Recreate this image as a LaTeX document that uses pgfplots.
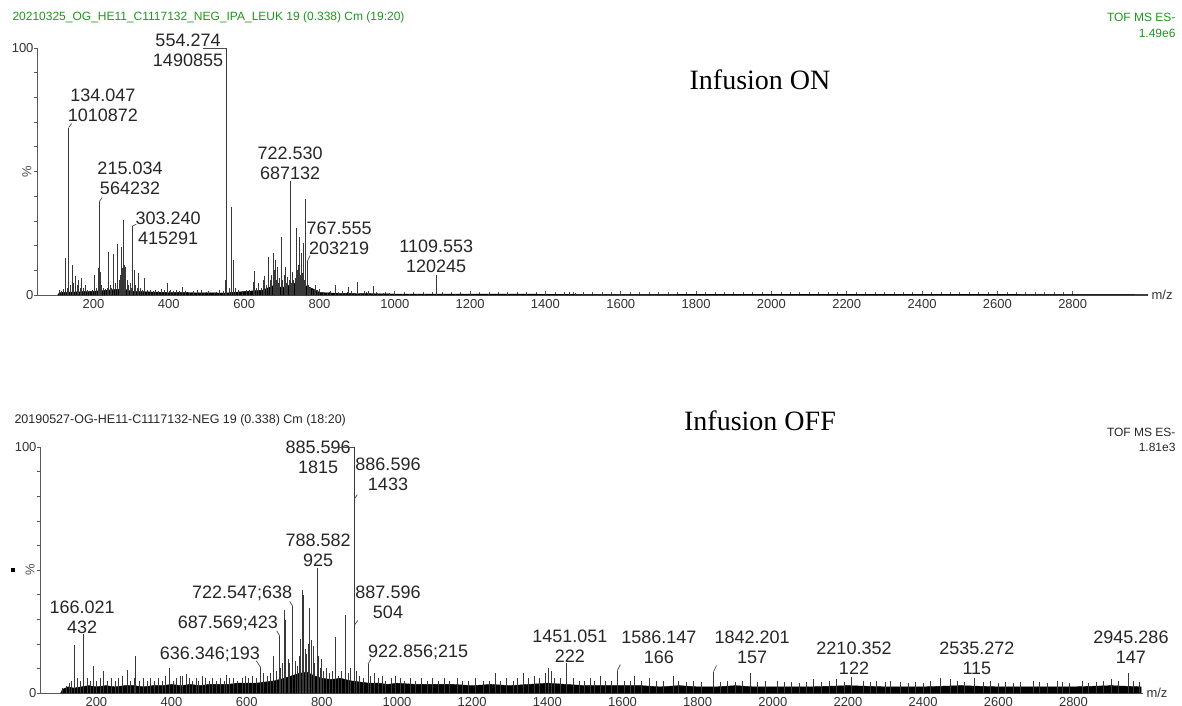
\documentclass[border=0pt]{standalone}
\usepackage{fontspec}
\setmainfont{Liberation Sans}
\newfontfamily\timesfont{Liberation Serif}
\usepackage{pgfplots}
\usepackage{pgfplotstable}
\pgfplotsset{compat=1.18}
\definecolor{msgreen}{RGB}{30,150,30}

% ---- Infusion ON (m/z, % of 1490855)
\pgfplotstableread{
mz pct
110 2
115 1.5
120 2.5
126 14.9
130 3
134.047 67.8
138 4
143 12.2
148 5
153 7.7
157 4
160 6
165 3
169 6.8
174 3
179 4
184 2
190 1.5
197 2
203 8
208 3
212 11
215.034 37.8
218 9.5
222 4
227 3
232 2.5
236 3
240 17.3
245 4
249 3
253 16.6
258 5
264 20.5
268 6
271 8
274 19.6
277 11
279 30.5
282 12
285 11.5
289 6
293 4
297 5
300 3
303.240 27.9
308 10
312 4
316 3
320 9
325 3
330 2
336 6.8
342 2
350 2
358 1.5
365 2
372 1.5
380 2.5
388 2
396 4.7
405 2
412 1.5
420 2
428 1.5
437 3.4
445 1.5
455 1
465 1.5
475 2
487 2
495 1
505 1.5
520 1
535 2
545 1.5
551 6
554.274 100
560 3
567 35.8
572 14
578 3
585 2
595 1.5
605 2
615 2
626 5.4
628 9.9
633 3
639 4.7
645 3
651 6
655 7.7
660 4
665 15.5
669 6
673 8
679 17.2
681 10
683 14
686 6
688 11.5
692 5
695 7
699 23.4
703 6
706 8
710 11.5
713 5
716 7.4
720 6
722.530 46.1
726 5
728 9.5
732 6
735 7
739 27
741 10
744 12
748 23.6
750 8
753 17
756 9
758 21
760 6
763 39
767.555 13.6
770 4
774 3
777 3.4
782 2
786 2.5
790 4
795 2
800 2.5
810 1
820 1
830 1.5
843 4
850 1
860 1.5
870 1
878 3.4
885 1.5
893 1
900 5.4
910 1
920 1.5
930 1.5
944 3.6
955 1
970 0.8
985 0.8
1000 1
1020 0.6
1040 0.6
1060 0.6
1080 0.5
1109.553 8.1
1130 0.5
1160 0.5
1200 0.5
1250 0.4
1300 0.4
1350 0.4
1400 0.5
1450 0.8
1465 1.2
1480 0.8
1500 0.8
1550 0.4
1600 0.4
}\topsticks

\pgfplotstableread{
mz pct
105 0
110 1
200 1.5
280 2.5
300 1.5
400 1
550 0.8
650 2
680 4
700 3
740 5
760 4
790 2
800 1
850 0.7
1000 0.4
1500 0.3
3000 0.2
}\topfloor

% ---- Infusion OFF (m/z, % of 1815)
\pgfplotstableread{
mz pct
110 2
120 3
128 4
135 5
141 19.6
150 6
158 5
166.021 23.8
175 6
183 5
192 11
200 5
210 6
218 8.8
230 5
240 6
250 5
260 6
270 7
282 9.2
290 5
300 6
304 15.1
315 5
325 6
335 5
345 6
355 5
365 6
375 5
385 7
395 10
405 5
412 6
423 6.8
430 7
439 7.8
447 6
455 5
465 6
472 5
481 7
490 6
500 5
510 6
520 5
530 6
540 5
547 7.4
555 6
565 6
575 5
590 6
598 7
605 6
615 7
625 6
636.346 10.6
645 8
655 7
662 8
670 15
678 9
687.569 23.3
690 10
695 12
701 33.8
704 29.7
710 14
715 12
722.547 35.2
730 13
735 11
740 15
743 21.9
749 42
752 40
756 18
760 16
764 20
767 34.5
771 21.6
777 19
780 12
788.582 51
791 15
795 10
798 14
805 9
812 10
820 8
828 9
836 22.7
845 7
852 9
862 31.8
864 20
870 8
875 10
885.596 100
886.596 79
887.596 27.8
893 9
900 7
910 6
922.856 11.8
930 7
940 8
950 6
960 7
970 5
985 6
995 7
1010 6
1020 5
1035 6
1050 5
1065 6
1080 5
1095 6
1110 5
1125 6
1140 5
1160 6
1175 5
1190 5
1210 6
1230 5
1245 5
1261 8
1275 5
1290 6
1310 5
1320 6
1336 8
1350 6
1365 7
1380 6
1395 8
1402 10
1410 9
1420 6
1435 6
1451.051 12.2
1470 6
1485 5
1500 5
1515 6
1525 5
1540 7
1555 5
1570 5
1586.147 9.1
1605 5
1620 5
1633 7
1650 5
1673 6
1690 5
1710 5
1735 7
1750 5
1770 4.5
1790 5
1810 4.5
1842.201 8.7
1860 4.5
1880 5
1900 4.5
1920 5
1940 8
1960 4.5
1980 5
2011 5
2030 4.5
2050 4.5
2070 4
2090 4.5
2107 5.5
2130 4.5
2150 5
2170 5.5
2190 4.5
2210.352 6.7
2240 5
2260 4.5
2277 5
2300 4.5
2312 5
2340 4.5
2360 4
2380 4.5
2400 4
2420 5
2445 6
2472 5.5
2490 5
2510 4.5
2535.272 6.3
2560 4.5
2580 5
2600 4
2620 4.5
2640 4
2660 4.5
2693 5
2710 4.5
2730 4
2756 5
2770 4.5
2790 4
2823 5
2840 4
2860 4.5
2880 5
2900 5.5
2920 5
2945.286 8.1
2960 5
2975 4.5
}\botsticks

% solid noise band of the OFF spectrum, read as an envelope
\pgfplotstableread{
mz pct
105 0
110 1.5
125 2.5
140 2
160 2.5
180 3
200 2.5
225 3
250 2.5
275 3
300 3
325 2.5
350 3
375 3
400 3.5
425 3
450 3.5
475 3
500 3.5
525 3.5
550 3.5
575 4
600 4
625 4
650 4.5
675 5
700 6
720 7
740 8
760 8.5
780 7
800 6
825 5.5
850 6
875 5
900 4.5
925 4
950 4
975 3.5
1000 4
1050 3.5
1100 3.5
1150 3.5
1200 3
1250 3.5
1300 3
1350 3.5
1400 4
1450 3.5
1500 3
1550 3
1600 3
1650 3
1700 2.5
1750 3
1800 2.5
1850 2.5
1900 3
1950 2.5
2000 2.5
2100 2.5
2200 3
2300 2.5
2400 2.5
2500 3
2600 2.5
2700 2.5
2800 2.5
2900 3
2980 2.5
}\botfloor

\pgfplotsset{
  msaxis/.style={
    scale only axis, anchor=south west, clip=false,
    ymin=0, ymax=100,
    axis x line=bottom, axis y line=left,
    axis line style={-, black!65, line width=0.8pt},
    xtick={200,400,...,2800}, minor x tick num=7,
    ytick={0,100}, minor y tick num=9,
    tick align=inside,
    major tick length=4pt, minor tick length=3pt,
    tick style={black!65, line width=0.6pt},
    y tick style={xshift=-3.5pt},
    ticklabel style={font=\fontsize{13}{13}\selectfont, text=black!80},
    /pgf/number format/assume math mode=true,
    /pgf/number format/1000 sep={},
    xticklabel style={yshift=-1pt},
  },
  stick/.style={ycomb, no marks, black!78, line width=0.9pt},
  floor/.style={no marks, fill=black, draw=black, line width=0.4pt},
}
\tikzset{
  lab/.style={font=\fontsize{18}{20}\selectfont, text=black!85, align=center, inner sep=0pt},
  lead/.style={black!70, line width=0.7pt},
}

\begin{document}
\begin{tikzpicture}
\useasboundingbox (0pt,0pt) rectangle (1182pt,705pt);

% ---------------- Infusion ON
\begin{axis}[msaxis, at={(37pt,410pt)}, width=1111pt, height=247pt,
  xmin=50, xmax=3000]
  \addplot[floor] table[x=mz, y=pct] {\topfloor} \closedcycle;
  \addplot[stick] table[x=mz, y=pct] {\topsticks};
  \node[lab] at (axis cs:451,99.2) {554.274\\1490855};
  \node[lab] at (axis cs:225,76.9) {134.047\\1010872};
  \node[lab] at (axis cs:297,47.4) {215.034\\564232};
  \node[lab] at (axis cs:398,27.1) {303.240\\415291};
  \node[lab] at (axis cs:722,53.4) {722.530\\687132};
  \node[lab] at (axis cs:852,23.1) {767.555\\203219};
  \node[lab] at (axis cs:1110,15.8) {1109.553\\120245};
  \draw[lead] (axis cs:554.274,100) -- ++(-5pt,0);
  \draw[lead] (axis cs:134.047,67.8) -- ++(3pt,4pt);
  \draw[lead] (axis cs:215.034,37.8) -- ++(3pt,4pt);
  \draw[lead] (axis cs:303.240,27.9) -- ++(4pt,2pt);
  \draw[lead] (axis cs:767.555,13.6) -- ++(3pt,6pt);
  \node[anchor=west, font=\fontsize{13}{13}\selectfont, text=black!80] at (rel axis cs:1,0) {m/z};
  \node[rotate=90, font=\fontsize{13}{13}\selectfont, text=black!70] at (rel axis cs:-0.009,0.5) {\%};
\end{axis}

% ---------------- Infusion OFF
\begin{axis}[msaxis, at={(40pt,12pt)}, width=1103pt, height=246pt,
  xmin=50, xmax=2985]
  \addplot[floor] table[x=mz, y=pct] {\botfloor} \closedcycle;
  \addplot[stick] table[x=mz, y=pct] {\botsticks};
  \node[lab] at (axis cs:162,30.9) {166.021\\432};
  \node[lab] at (axis cs:502,15.9) {636.346;193};
  \node[lab] at (axis cs:550,28.5) {687.569;423};
  \node[lab] at (axis cs:588,40.7) {722.547;638};
  \node[lab] at (axis cs:790,58.1) {788.582\\925};
  \node[lab] at (axis cs:790,95.9) {885.596\\1815};
  \node[lab] at (axis cs:976,89.0) {886.596\\1433};
  \node[lab] at (axis cs:976,37.0) {887.596\\504};
  \node[lab] at (axis cs:1056,16.7) {922.856;215};
  \node[lab] at (axis cs:1460,19.1) {1451.051\\222};
  \node[lab] at (axis cs:1697,18.7) {1586.147\\166};
  \node[lab] at (axis cs:1945,18.7) {1842.201\\157};
  \node[lab] at (axis cs:2216,14.2) {2210.352\\122};
  \node[lab] at (axis cs:2543,14.2) {2535.272\\115};
  \node[lab] at (axis cs:2953,18.7) {2945.286\\147};
  \draw[lead] (axis cs:636.346,10.6) -- ++(-4pt,6pt);
  \draw[lead] (axis cs:687.569,23.3) -- ++(-3pt,5pt);
  \draw[lead] (axis cs:722.547,35.2) -- ++(-3pt,5pt);
  \draw[lead] (axis cs:885.596,100) -- ++(-4pt,0);
  \draw[lead] (axis cs:886.596,79) -- ++(3pt,4pt);
  \draw[lead] (axis cs:887.596,27.8) -- ++(3pt,4pt);
  \draw[lead] (axis cs:922.856,11.8) -- ++(3pt,5pt);
  \draw[lead] (axis cs:1586.147,9.1) -- ++(3pt,6pt);
  \draw[lead] (axis cs:1842.201,8.7) -- ++(3pt,6pt);
  \node[anchor=west, font=\fontsize{13}{13}\selectfont, text=black!80] at (rel axis cs:1,0) {m/z};
  \node[rotate=90, font=\fontsize{13}{13}\selectfont, text=black!70] at (rel axis cs:-0.009,0.5) {\%};
  \node[fill=black, inner sep=0pt, minimum size=4pt] at (rel axis cs:-0.0245,0.5) {};
\end{axis}

% ---------------- headers
\node[anchor=west, font=\fontsize{12}{12}\selectfont, text=msgreen] at (9pt,688pt)
  {20210325\_OG\_HE11\_C1117132\_NEG\_IPA\_LEUK 19 (0.338) Cm (19:20)};
\node[anchor=east, font=\fontsize{12}{16}\selectfont, text=msgreen, align=right] at (1179pt,680pt)
  {TOF MS ES-\\1.49e6};
\node[anchor=west, font=\fontsize{12.5}{12.5}\selectfont, text=black!85] at (11pt,285pt)
  {20190527-OG-HE11-C1117132-NEG 19 (0.338) Cm (18:20)};
\node[anchor=east, font=\fontsize{12}{14.5}\selectfont, text=black!85, align=right] at (1179pt,265pt)
  {TOF MS ES-\\1.81e3};
\node[anchor=base, font=\timesfont\fontsize{28}{28}\selectfont] at (760pt,615pt) {Infusion ON};
\node[anchor=base, font=\timesfont\fontsize{28}{28}\selectfont] at (760pt,275pt) {Infusion OFF};
\end{tikzpicture}
\end{document}
